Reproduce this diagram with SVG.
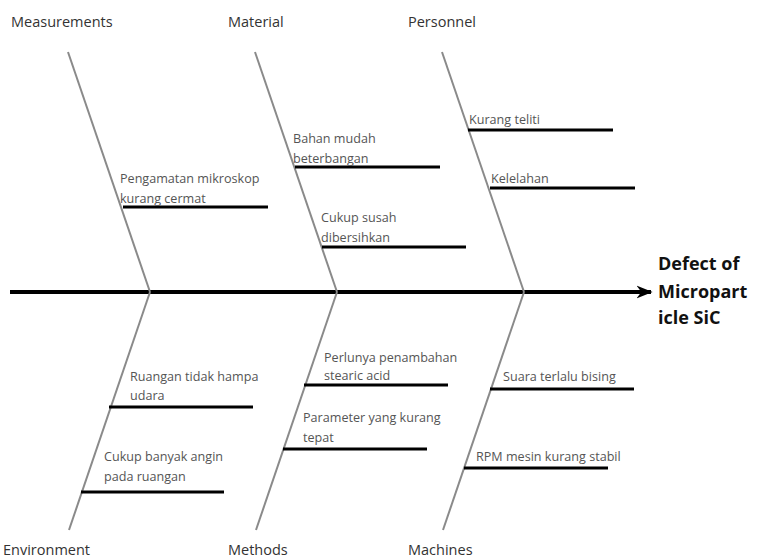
<svg xmlns="http://www.w3.org/2000/svg" width="764" height="559" viewBox="0 0 764 559">
<style>
.bone{stroke:#8a8a8a;stroke-width:2;fill:none}
.sub{stroke:#000;stroke-width:3}
.spine{stroke:#000;stroke-width:4}
.t{font-family:"Open Sans","Noto Sans",sans-serif;font-size:12.6px;fill:#555}
.c{font-family:"Open Sans","Noto Sans",sans-serif;font-size:14.5px;fill:#333}
.h{font-family:"Open Sans","Noto Sans",sans-serif;font-size:18px;font-weight:bold;fill:#111}
</style>
<defs>
<marker id="arr" viewBox="0 0 10 10" refX="9" refY="5" markerWidth="4" markerHeight="4" orient="auto" markerUnits="strokeWidth">
<path d="M0,1 L10,5 L0,9 L3,5 z" fill="#000"/>
</marker>
</defs>
<rect width="764" height="559" fill="#fff"/>
<g id="connectors">
<line class="spine" x1="10" y1="292" x2="651" y2="292" marker-end="url(#arr)"/>
<line class="bone" x1="68" y1="52" x2="150" y2="292"/>
<line class="bone" x1="255" y1="52" x2="337" y2="292"/>
<line class="bone" x1="442" y1="52" x2="524" y2="292"/>
<line class="bone" x1="150" y1="292" x2="69" y2="530"/>
<line class="bone" x1="337" y1="292" x2="256" y2="530"/>
<line class="bone" x1="524" y1="292" x2="443" y2="530"/>
<line class="sub" x1="123" y1="207" x2="268" y2="207"/>
<line class="sub" x1="295" y1="167" x2="440" y2="167"/>
<line class="sub" x1="322" y1="247" x2="466" y2="247"/>
<line class="sub" x1="468" y1="130" x2="613" y2="130"/>
<line class="sub" x1="490" y1="188" x2="635" y2="188"/>
<line class="sub" x1="109" y1="407" x2="253" y2="407"/>
<line class="sub" x1="81" y1="492" x2="224" y2="492"/>
<line class="sub" x1="304" y1="385" x2="448" y2="385"/>
<line class="sub" x1="283" y1="449" x2="427" y2="449"/>
<line class="sub" x1="490" y1="389" x2="634" y2="389"/>
<line class="sub" x1="464" y1="468" x2="608" y2="468"/>
</g>
<g id="effect"><text class="h" x="658" y="270">Defect of</text><text class="h" x="658" y="298">Micropart</text><text class="h" x="658" y="324">icle SiC</text></g>
<g id="measurements"><text class="c" x="11" y="27">Measurements</text></g>
<g id="material"><text class="c" x="228" y="27">Material</text></g>
<g id="personnel"><text class="c" x="408" y="27">Personnel</text></g>
<g id="environment"><text class="c" x="3" y="555">Environment</text></g>
<g id="methods"><text class="c" x="228" y="555">Methods</text></g>
<g id="machines"><text class="c" x="408" y="555">Machines</text></g>
<g id="m1"><text class="t" x="120" y="183">Pengamatan mikroskop</text><text class="t" x="120" y="203">kurang cermat</text></g>
<g id="mat1"><text class="t" x="293" y="143">Bahan mudah</text><text class="t" x="293" y="163">beterbangan</text></g>
<g id="mat2"><text class="t" x="321" y="222">Cukup susah</text><text class="t" x="321" y="242">dibersihkan</text></g>
<g id="p1"><text class="t" x="469" y="124">Kurang teliti</text></g>
<g id="p2"><text class="t" x="491" y="183">Kelelahan</text></g>
<g id="e1"><text class="t" x="130" y="381">Ruangan tidak hampa</text><text class="t" x="130" y="400">udara</text></g>
<g id="e2"><text class="t" x="104" y="461">Cukup banyak angin</text><text class="t" x="104" y="481">pada ruangan</text></g>
<g id="me1"><text class="t" x="324" y="362">Perlunya penambahan</text><text class="t" x="324" y="380">stearic acid</text></g>
<g id="me2"><text class="t" x="303" y="422">Parameter yang kurang</text><text class="t" x="303" y="442">tepat</text></g>
<g id="ma1"><text class="t" x="503" y="381">Suara terlalu bising</text></g>
<g id="ma2"><text class="t" x="476" y="461">RPM mesin kurang stabil</text></g>
</svg>
